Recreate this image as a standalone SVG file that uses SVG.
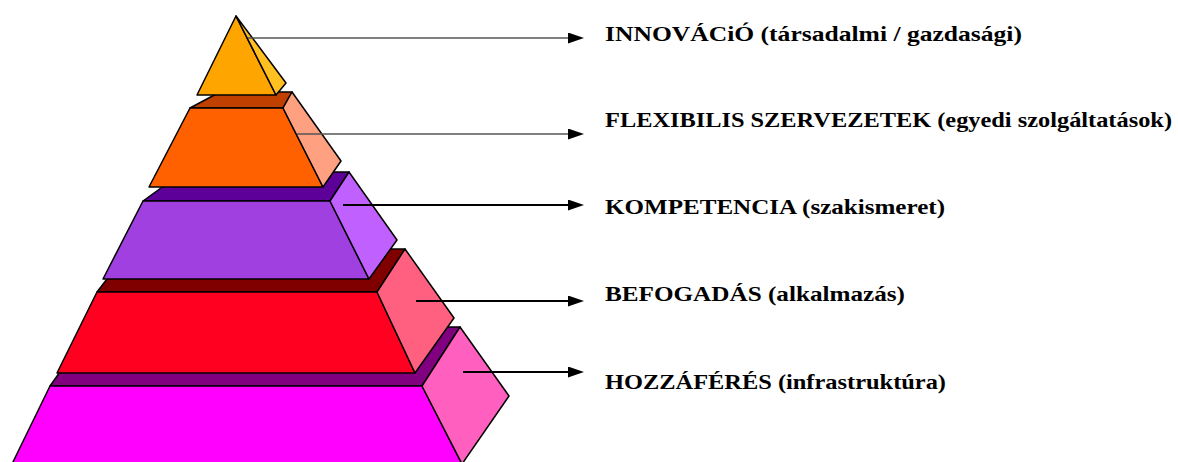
<svg xmlns="http://www.w3.org/2000/svg" width="1178" height="462" viewBox="0 0 1178 462">
<style>
.f{stroke:#000;stroke-width:1.5;stroke-linejoin:round}
.g{stroke:#555;stroke-width:1.5;fill:none}
.k{stroke:#000;stroke-width:2;fill:none}
.t{font-family:"Liberation Serif",serif;font-weight:bold;font-size:22px;fill:#000}
</style>
<defs>
<marker id="ah" viewBox="0 0 16 11" refX="0" refY="5.5" markerWidth="16" markerHeight="11" markerUnits="userSpaceOnUse" orient="auto">
<path d="M0,0 L16,5.5 L0,11 Z" fill="#000"/>
</marker>
</defs>
<rect width="1178" height="462" fill="#fff"/>
<g id="tier5">
<polygon class="f" fill="#800080" points="50,386 422,386 460,327 92,327"/>
<polygon class="f" fill="#FF00FF" points="50,386 422,386 462,464 12,464"/>
<polygon class="f" fill="#FF60C0" points="422,386 460,327 509,396 462,464"/>
</g>
<g id="tier4">
<polygon class="f" fill="#800000" points="97,292 377,292 405,249 130,249"/>
<polygon class="f" fill="#FF0020" points="97,292 377,292 415,373 57,373"/>
<polygon class="f" fill="#FF6080" points="377,292 405,249 454,318 415,373"/>
</g>
<g id="tier3">
<polygon class="f" fill="#5C0099" points="143,201 330,201 349,172 183,172"/>
<polygon class="f" fill="#A040E0" points="143,201 330,201 369,279 103,279"/>
<polygon class="f" fill="#C060FF" points="330,201 349,172 397,240 369,279"/>
</g>
<g id="tier2">
<polygon class="f" fill="#C04000" points="190,108 283,108 292,92 220,92"/>
<polygon class="f" fill="#FF6000" points="190,108 283,108 323,187 149,187"/>
<polygon class="f" fill="#FFA080" points="283,108 292,92 341,161 323,187"/>
</g>
<g id="tier1">
<polygon class="f" fill="#FFA500" points="236,16 276,95 197,95"/>
<polygon class="f" fill="#FFC020" points="236,16 286,83 276,95"/>
</g>
<g id="connectors">
<path class="g" d="M248,38 H568" marker-end="url(#ah)"/>
<path class="g" d="M297,134 H568" marker-end="url(#ah)"/>
<path class="k" d="M343,205 H568" marker-end="url(#ah)"/>
<path class="k" d="M416,301 H568" marker-end="url(#ah)"/>
<path class="k" d="M463,372 H568" marker-end="url(#ah)"/>
</g>
<g id="labels">
<text class="t" x="605" y="41" textLength="417" lengthAdjust="spacingAndGlyphs">INNOVÁCiÓ (társadalmi / gazdasági)</text>
<text class="t" x="605" y="127" textLength="567" lengthAdjust="spacingAndGlyphs">FLEXIBILIS SZERVEZETEK (egyedi szolgáltatások)</text>
<text class="t" x="605" y="214" textLength="340" lengthAdjust="spacingAndGlyphs">KOMPETENCIA (szakismeret)</text>
<text class="t" x="605" y="301" textLength="300" lengthAdjust="spacingAndGlyphs">BEFOGADÁS (alkalmazás)</text>
<text class="t" x="605" y="389" textLength="341" lengthAdjust="spacingAndGlyphs">HOZZÁFÉRÉS (infrastruktúra)</text>
</g>
</svg>
